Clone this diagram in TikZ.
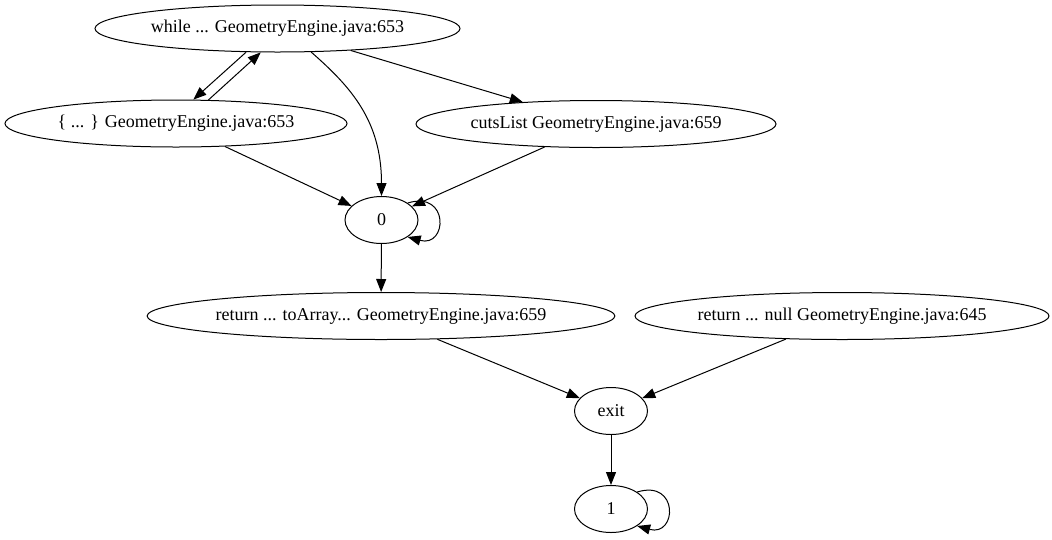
\documentclass[tikz,border=0pt]{standalone}
\usepackage{fontspec}
\setmainfont{Liberation Serif}
\usetikzlibrary{shapes.geometric,arrows.meta}
\begin{document}
\begin{tikzpicture}[x=1pt,y=-1pt,
  nd/.style={draw,ellipse,inner sep=0pt,line width=1pt,minimum height=47pt,font=\fontsize{18}{21}\selectfont},
  edge/.style={line width=1pt,-{Triangle[length=13pt,width=10pt]}}]
\useasboundingbox (0,0) rectangle (1052,539);
\node[nd,minimum width=365pt] (w) at (277.5,28.5) {while ... GeometryEngine.java:653};
\node[nd,minimum width=342pt] (b) at (176,123.5) {\{ ... \} GeometryEngine.java:653};
\node[nd,minimum width=360pt] (c) at (596,124) {cutsList GeometryEngine.java:659};
\node[nd,minimum width=73pt] (z) at (381.5,220) {0};
\node[nd,minimum width=464pt] (ta) at (381,316) {return ... toArray... GeometryEngine.java:659};
\node[nd,minimum width=414pt] (rn) at (842,316) {return ... null GeometryEngine.java:645};
\node[nd,minimum width=73pt] (ex) at (611,411) {exit};
\node[nd,minimum width=73pt] (one) at (611,509) {1};
\draw[edge] (w.-143) -- (b.54);
\draw[edge] (b.36) -- (w.-125.5);
\draw[edge] (w.-35.4) .. controls +(40,35) and +(0,-75) .. (z.north);
\draw[edge] (w) -- (c);
\draw[edge] (b) -- (z);
\draw[edge] (c) -- (z);
\draw[edge] (z.33) .. controls +(42,-13) and +(40,11) .. (z.-33);
\draw[edge] (z) -- (ta);
\draw[edge] (ta) -- (ex);
\draw[edge] (rn) -- (ex);
\draw[edge] (ex) -- (one);
\draw[edge] (one.33) .. controls +(42,-13) and +(40,11) .. (one.-33);
\end{tikzpicture}
\end{document}
